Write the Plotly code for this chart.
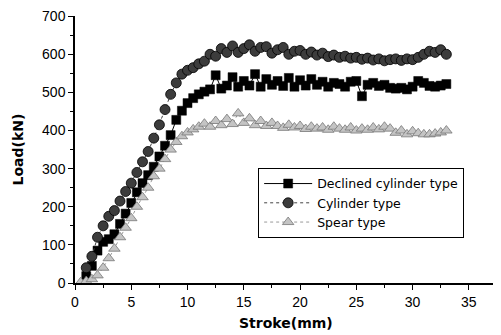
import plotly.graph_objects as go

# Stroke (mm) and load (kN)
declined_x = [1.0, 1.5, 2.0, 2.5, 3.0, 3.5, 4.0, 4.5, 5.0, 5.5, 6.0, 6.5, 7.0, 7.5, 8.0, 8.5, 9.0, 9.5,
              10.0, 10.5, 11.0, 11.5, 12.0, 12.5, 13.0, 13.5, 14.0, 14.5, 15.0, 15.5, 16.0, 16.5, 17.0,
              17.5, 18.0, 18.5, 19.0, 19.5, 20.0, 20.5, 21.0, 21.5, 22.0, 22.5, 23.0, 23.5, 24.0, 24.5,
              25.0, 25.5, 26.0, 26.5, 27.0, 27.5, 28.0, 28.5, 29.0, 29.5, 30.0, 30.5, 31.0, 31.5, 32.0,
              32.5, 33.0]
declined_y = [18, 45, 85, 108, 115, 128, 155, 182, 210, 238, 262, 283, 305, 332, 360, 388, 428, 452,
              472, 485, 495, 502, 508, 545, 510, 518, 540, 515, 530, 518, 548, 515, 535,
              520, 530, 517, 538, 515, 532, 518, 535, 520, 528, 515, 525, 522, 515, 528,
              530, 490, 520, 525, 517, 520, 512, 510, 512, 508, 515, 530, 525, 517, 515,
              518, 522]

cylinder_x = declined_x
cylinder_y = [40, 70, 120, 150, 175, 190, 215, 240, 262, 290, 318, 345, 380, 415, 455, 495, 525, 548,
              558, 565, 575, 582, 600, 595, 615, 605, 622, 605, 615, 625, 608, 618, 620,
              603, 612, 618, 600, 608, 610, 600, 606, 598, 603, 594, 598, 592, 595, 590,
              592, 587, 590, 585, 588, 583, 586, 588, 584, 588, 586, 592, 600, 608, 605,
              612, 600]

spear_x = [0.5] + declined_x
spear_y = [2, 5, 10, 20, 40, 65, 90, 120, 145, 170, 200, 225, 250, 280, 300, 325, 350, 370, 385,
           395, 403, 410, 418, 410, 425, 414, 430, 417, 445, 420, 432, 414, 425,
           412, 420, 412, 407, 415, 408, 412, 404, 410, 405, 408, 402, 410, 405, 402,
           408, 400, 405, 402, 408, 403, 410, 405, 394, 400, 390, 398, 393, 390,
           390, 392, 395, 400]

x_ticks = [0, 5, 10, 15, 20, 25, 30, 35]
y_ticks = [0, 100, 200, 300, 400, 500, 600, 700]

font = "Liberation Sans, Arial, sans-serif"
wide_font = "DejaVu Sans, sans-serif"

fig = go.Figure()
fig.add_trace(go.Scatter(
    x=declined_x, y=declined_y, name="Declined cylinder type", mode="lines+markers",
    line=dict(color="black", width=1),
    marker=dict(symbol="square", size=9, color="black", line=dict(color="black", width=0.5)),
))
fig.add_trace(go.Scatter(
    x=cylinder_x, y=cylinder_y, name="Cylinder type", mode="lines+markers",
    line=dict(color="#444444", width=1, dash="dot"),
    marker=dict(symbol="circle", size=10, color="#3c3c3c", line=dict(color="black", width=0.8)),
))
fig.add_trace(go.Scatter(
    x=spear_x, y=spear_y, name="Spear type", mode="lines+markers",
    line=dict(color="#999999", width=1, dash="dot"),
    marker=dict(symbol="triangle-up", size=10, color="#c4c4c4", line=dict(color="#777777", width=0.8)),
))

fig.update_layout(
    width=493, height=327,
    margin=dict(l=67, r=4, t=8, b=52),
    paper_bgcolor="white", plot_bgcolor="white",
    font=dict(family=font, size=14, color="black"),
    showlegend=True,
    legend=dict(
        x=0.434, y=0.431, xanchor="left", yanchor="top",
        bordercolor="black", borderwidth=1, bgcolor="white",
        font=dict(family=wide_font, size=12.5, color="black"),
        tracegroupgap=0, itemwidth=48,
    ),
    annotations=[
        dict(text="<b>Stroke(mm)</b>", xref="paper", yref="paper", x=0.5, y=0,
             xanchor="center", yanchor="middle", yshift=-40, xshift=0, showarrow=False,
             font=dict(family=wide_font, size=14, color="black")),
        dict(text="<b>Load(kN)</b>", xref="paper", yref="paper", x=0, y=0.5,
             xanchor="center", yanchor="middle", xshift=-58, textangle=-90, showarrow=False,
             font=dict(family=wide_font, size=14, color="black")),
    ],
)
fig.update_xaxes(
    range=[0, 37.5], tickvals=x_ticks, ticktext=[str(v) for v in x_ticks],
    showgrid=False, zeroline=False, showline=True, linecolor="black", linewidth=1.5,
    ticks="outside", ticklen=5, tickwidth=1.2, tickcolor="black",
    minor=dict(dtick=2.5, ticks="outside", ticklen=3, tickcolor="black"),
    tickfont=dict(family=font, size=14), automargin=False, ticklabeloverflow="allow",
)
fig.update_yaxes(
    range=[0, 700.5], tickvals=y_ticks, ticktext=[str(v) for v in y_ticks],
    showgrid=False, zeroline=False, showline=True, linecolor="black", linewidth=1.5,
    ticks="outside", ticklen=5, tickwidth=1.2, tickcolor="black",
    minor=dict(dtick=50, ticks="outside", ticklen=3, tickcolor="black"),
    tickfont=dict(family=font, size=14), automargin=False, ticklabeloverflow="allow",
)

fig.write_html("out.html")
